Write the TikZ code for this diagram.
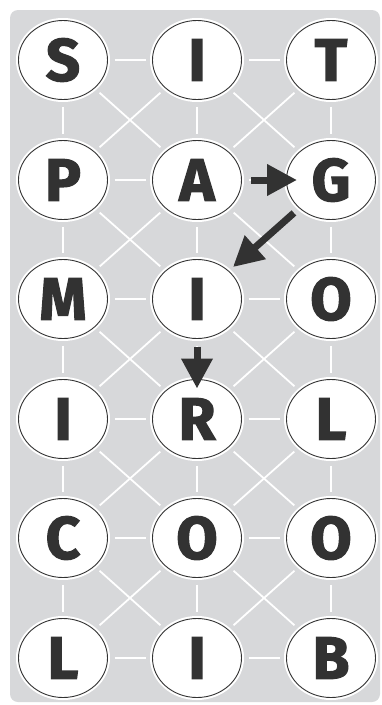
\documentclass[tikz,border=0pt]{standalone}
\usepackage{fontspec}
\setmainfont{Fira Sans}
\newfontfamily\heavyfont{Fira Sans}[BoldFeatures={FakeBold=2}]
\usetikzlibrary{shapes.geometric,arrows.meta}
\definecolor{bg}{RGB}{215,216,218}
\definecolor{ink}{RGB}{50,50,50}
\begin{document}
\begin{tikzpicture}[x=1pt,y=-1pt,
  letter/.style={ellipse, minimum width=89pt, minimum height=79pt, inner sep=0pt, outer sep=0pt,
    fill=white, draw=ink, line width=0.9pt, preaction={draw=white, line width=5pt},
    font=\heavyfont\bfseries\fontsize{60}{60}\selectfont, text=ink},
  link/.style={draw=white, line width=1.8pt, shorten <=7pt, shorten >=7pt},
  move/.style={draw=ink, line width=7pt, -{Triangle[length=30pt,width=30pt]}}
]
\useasboundingbox (0,0) rectangle (382,705);
\fill[bg, rounded corners=8pt] (10,10) rectangle (380,702);

% nodes
\node[letter] (n11) at (63,60)  {S};
\node[letter] (n12) at (197,60) {I};
\node[letter] (n13) at (331,60) {T};
\node[letter] (n21) at (63,180)  {P};
\node[letter] (n22) at (197,180) {A};
\node[letter] (n23) at (331,180) {G};
\node[letter] (n31) at (63,299)  {M};
\node[letter] (n32) at (197,299) {I};
\node[letter] (n33) at (331,299) {O};
\node[letter] (n41) at (63,419)  {I};
\node[letter] (n42) at (197,419) {R};
\node[letter] (n43) at (331,419) {L};
\node[letter] (n51) at (63,538)  {C};
\node[letter] (n52) at (197,538) {O};
\node[letter] (n53) at (331,538) {O};
\node[letter] (n61) at (63,658)  {L};
\node[letter] (n62) at (197,658) {I};
\node[letter] (n63) at (331,658) {B};

% white connectors
\foreach \r in {1,...,6}{
  \draw[link] (n\r1) -- (n\r2);
  \draw[link] (n\r2) -- (n\r3);
}
\foreach \r/\s in {1/2,2/3,3/4,4/5,5/6}{
  \foreach \c in {1,2,3}{
    \draw[link] (n\r\c) -- (n\s\c);
  }
  \foreach \c/\d in {1/2,2/3}{
    \draw[link] (n\r\c) -- (n\s\d);
    \draw[link] (n\r\d) -- (n\s\c);
  }
}

% arrows
\draw[move, shorten <=9.5pt, shorten >=-10.5pt] (n22) -- (n23);
\draw[move, shorten <=7.5pt, shorten >=6pt] (n23) -- (n32);
\draw[move, shorten <=8pt, shorten >=-9pt] (n32) -- (n42);
\end{tikzpicture}
\end{document}
